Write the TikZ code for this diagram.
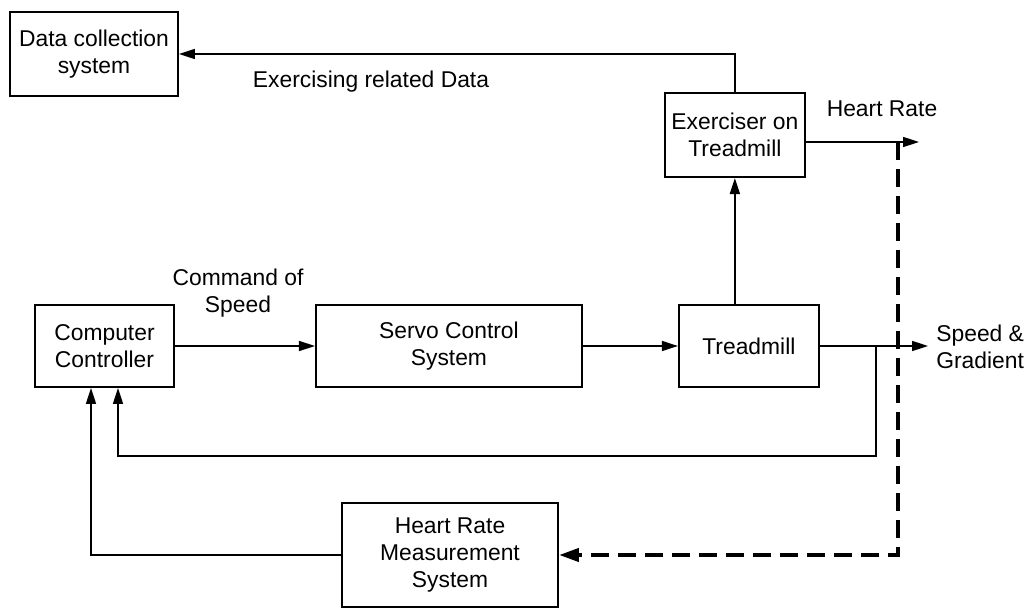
\documentclass[tikz,border=0pt]{standalone}
\usepackage{fontspec}
\setmainfont{Liberation Sans}
\usepackage{tikz}
\usetikzlibrary{arrows.meta, positioning, calc}
\tikzset{
    block/.style={
        rectangle,
        draw=black,
        line width=1.1pt,
        minimum width=2.8cm,
        minimum height=1.64cm,
        fill=white,
        align=center,
        font=\fontsize{13}{15.4}\selectfont
    },
    wire/.style={
        draw=black,
        line width=0.9pt,
        -{Triangle[length=0.32cm,width=0.2cm]}
    },
    hrwire/.style={
        draw=black,
        line width=2.3pt,
        dash pattern=on 0.36cm off 0.18cm,
        -{Triangle[length=0.4cm,width=0.26cm]}
    },
    sigtext/.style={
        align=center,
        inner sep=0pt,
        font=\fontsize{13}{15.4}\selectfont
    }
}

\begin{document}
\begin{tikzpicture}[node distance=1cm and 1.2cm]

\useasboundingbox (0,0) rectangle (20.64,-12.16);

\node[block, minimum width=2.78cm] (cc) at (2.09,-6.92) {Computer\\Controller};
\node[block, right=2.8cm of cc, minimum width=5.32cm] (servo) {Servo Control\\System};
\node[block, right=1.9cm of servo] (tm) {Treadmill};
\node[block, above=2.52cm of tm, xshift=-0.28cm, minimum height=1.68cm] (ex) {Exerciser on\\Treadmill};
\node[block, minimum width=3.36cm, minimum height=1.68cm] (dc) at (1.88,-1.08) {Data collection\\system};
\node[block, minimum width=4.32cm, minimum height=2.08cm] (hr) at (9.0,-11.1) {Heart Rate\\Measurement\\System};

% free ends and taps
\coordinate (hrend) at (18.38,-2.84);
\coordinate (spdend) at (18.56,-6.92);
\coordinate (tap) at ($(tm.east)+(1.12,0)$);
\coordinate (hrtap) at (17.96,-2.84);

\draw[wire] (cc) -- (servo);
\draw[wire] (servo) -- (tm);
\draw[wire] (tm.east) -- (spdend);
\draw[wire] (ex.south |- tm.north) -- (ex.south);
\draw[wire] (ex.north) |- (dc.east);
\draw[wire] (ex.east |- hrend) -- (hrend);
\draw[wire] (tap) -- ++(0,-2.2) -| ([xshift=0.27cm]cc.south);
\draw[wire] (hr.west) -| ([xshift=-0.27cm]cc.south);
\draw[hrwire] (hrtap) |- (hr.east);

\node[sigtext] at (4.76,-5.86) {Command of\\Speed};
\node[sigtext] at (7.42,-1.64) {Exercising related Data};
\node[sigtext] at (17.64,-2.18) {Heart Rate};
\node[sigtext, anchor=west, align=left] at (18.72,-6.93) {Speed \&\\Gradient};

\end{tikzpicture}
\end{document}
